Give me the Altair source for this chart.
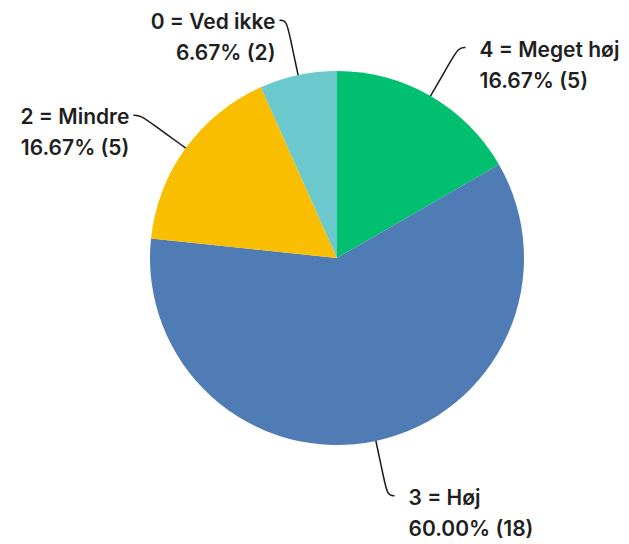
import math
import altair as alt
import pandas as pd

categories = ["4 = Meget høj", "3 = Høj", "2 = Mindre", "0 = Ved ikke"]
counts = [5, 18, 5, 2]
colors = ["#00BF6F", "#507CB6", "#F9BE00", "#6BC8CD"]

W, H = 613, 536
CX, CY, R = 329, 250, 187
R_MID, R_ELBOW = 226, 243
LINE_END, GAP_RIGHT, GAP_LEFT = 7, 21, 11
LINE_H = 31

total = sum(counts)
pie_df = pd.DataFrame({"cat": categories, "n": counts, "order": list(range(len(counts)))})

line_rows, label_rows = [], []
cum = 0
for i, (cat, n) in enumerate(zip(categories, counts)):
    mid = (cum + n / 2) / total * 2 * math.pi
    cum += n
    s, c = math.sin(mid), math.cos(mid)
    side = 1 if s > 0 else -1
    ex, ey = CX + R_ELBOW * s, CY - R_ELBOW * c
    pts = [
        (CX + R * s, CY - R * c),
        (CX + R_MID * s, CY - R_MID * c),
        (ex, ey),
        (ex + LINE_END * side, ey),
    ]
    for k, (px, py) in enumerate(pts):
        line_rows.append({"cat": cat, "k": k, "x": px, "y": py})
    pct = f"{n / total * 100:.2f}% ({n})"
    lx = ex + (GAP_RIGHT if side > 0 else -GAP_LEFT)
    for j, t in enumerate([cat, pct]):
        label_rows.append({"cat": cat, "x": lx, "y": ey + 3 + j * LINE_H,
                           "text": t, "side": "right" if side > 0 else "left"})

lines_df = pd.DataFrame(line_rows)
labels_df = pd.DataFrame(label_rows)

xs = alt.Scale(domain=[0, W], range=[0, W])
ys = alt.Scale(domain=[0, H], range=[0, H])

pie = alt.Chart(pie_df).mark_arc(radius=R).encode(
    theta=alt.Theta("n:Q", stack=True),
    color=alt.Color("cat:N", scale=alt.Scale(domain=categories, range=colors), legend=None),
    order=alt.Order("order:Q"),
    x=alt.value(CX),
    y=alt.value(CY),
)

leaders = alt.Chart(lines_df).mark_line(interpolate="basis", color="#1a1a1a", strokeWidth=1.5).encode(
    x=alt.X("x:Q", scale=xs, axis=None),
    y=alt.Y("y:Q", scale=ys, axis=None),
    detail="cat:N",
    order="k:Q",
)

txt_common = dict(baseline="middle", font="Inter", fontSize=21, fontWeight=600, color="#1f1f1f")
labels_r = alt.Chart(labels_df).transform_filter(alt.datum.side == "right").mark_text(
    align="left", **txt_common
).encode(x=alt.X("x:Q", scale=xs, axis=None), y=alt.Y("y:Q", scale=ys, axis=None), text="text:N")
labels_l = alt.Chart(labels_df).transform_filter(alt.datum.side == "left").mark_text(
    align="right", **txt_common
).encode(x=alt.X("x:Q", scale=xs, axis=None), y=alt.Y("y:Q", scale=ys, axis=None), text="text:N")

chart = alt.layer(pie, leaders, labels_r, labels_l).properties(
    width=W, height=H, padding=0, autosize="none"
).configure_view(stroke=None)

chart.save("out.html", embed_options={"renderer": "svg", "actions": False})
